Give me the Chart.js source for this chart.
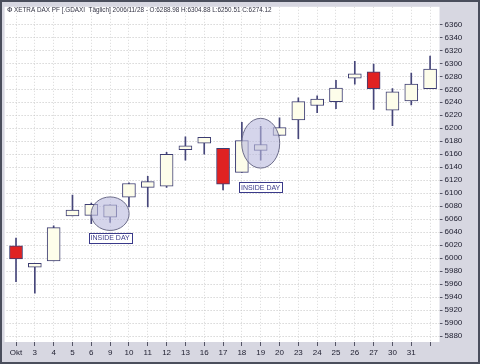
<!DOCTYPE html>
<html><head><meta charset="utf-8">
<script src="https://cdn.jsdelivr.net/npm/chart.js@4"></script>
<style>html,body{margin:0;padding:0;background:#d7d7e1}</style>
</head><body>
<canvas id="c" width="480" height="364"></canvas>
<script>
// daily candles, Oct 2 .. Nov 1
const days = ["Okt","3","4","5","6","9","10","11","12","13","16","17","18","19","20","23","24","25","26","27","30","31","1"]
const tickLabels = ["Okt","3","4","5","6","9","10","11","12","13","16","17","18","19","20","23","24","25","26","27","30","31",""]
const opens  = [6019,5986,5996,6065,6066,6063,6094,6109,6111,6167,6177,6169,6132,6166,6189,6213,6235,6241,6277,6287,6228,6242,6261]
const highs  = [6031,5992,6050,6097,6085,6082,6116,6126,6163,6187,6186,6169,6209,6203,6216,6247,6250,6274,6303,6299,6261,6285,6311]
const lows   = [5964,5946,5996,6065,6053,6055,6079,6079,6109,6151,6160,6105,6132,6151,6189,6184,6224,6230,6268,6229,6204,6236,6261]
const closes = [5999,5992,6047,6074,6083,6082,6115,6118,6160,6173,6186,6114,6181,6175,6201,6241,6245,6262,6284,6261,6256,6268,6291]
const yTicks = [5880,5900,5920,5940,5960,5980,6000,6020,6040,6060,6080,6100,6120,6140,6160,6180,6200,6220,6240,6260,6280,6300,6320,6340,6360]

// inside-day markers: candle index and value of the label box
const insideDays = [5,13]
const insideLabelY = [6031,6109]

const titleText = "XETRA DAX PF [.GDAXI  Täglich] 2006/11/28 - O:6288.98 H:6304.88 L:6250.51 C:6274.12"

const upFill = "#fdfdea"
const downFill = "#e02222"
const edge = "#3c3c72"

const frame = {
id:"frame",
beforeDraw(chart){
const c = chart.ctx, a = chart.chartArea
c.save()
c.fillStyle = "#d7d7e1"
c.fillRect(0,0,chart.width,chart.height)
c.fillStyle = "#ffffff"
c.fillRect(a.left-2,a.top,a.right-a.left+2,a.bottom-a.top)
c.restore()
},
afterDatasetsDraw(chart){
const c = chart.ctx, xs = chart.scales.x, ys = chart.scales.y
c.save()
insideDays.forEach((i,k)=>{
const cx = xs.getPixelForValue(i)
const top = ys.getPixelForValue(highs[i]), bot = ys.getPixelForValue(lows[i])
const cy = (top+bot)/2
const ry = (bot-top)/2 + 8
c.beginPath()
c.ellipse(cx,cy,19,ry,0,0,Math.PI*2)
c.fillStyle = "rgba(185,185,222,0.6)"
c.fill()
c.strokeStyle = "#6c6c8a"
c.lineWidth = 1
c.stroke()
// label
const ly = ys.getPixelForValue(insideLabelY[k])
c.font = "7px 'Liberation Sans'"
const w = c.measureText("INSIDE DAY").width + 4
c.fillStyle = "#ffffff"
c.fillRect(cx-w/2,ly-5,w,10)
c.strokeStyle = "#3a3a8a"
c.strokeRect(Math.round(cx-w/2)+0.5,Math.round(ly-5)+0.5,Math.round(w),10)
c.fillStyle = "#3a3a8a"
c.textAlign = "center"
c.textBaseline = "middle"
c.fillText("INSIDE DAY",cx,ly+0.5)
})
c.restore()
},
afterDraw(chart){
const c = chart.ctx
c.save()
c.font = "7px 'Liberation Sans'"
c.fillStyle = "#333344"
c.textBaseline = "middle"
const w = c.measureText(titleText).width
const size = 7*258/w
c.font = size.toFixed(2)+"px 'Liberation Sans'"
c.fillText(titleText,14,10)
c.font = "7px 'DejaVu Sans'"
c.fillText("Φ",7,10)
c.strokeStyle = "#4a4e5c"
c.lineWidth = 2
c.strokeRect(1,1,chart.width-2,chart.height-2)
c.restore()
}
}

new Chart(document.getElementById("c"),{
type:"bar",
data:{
labels:days,
datasets:[{
data:opens.map((o,i)=>[o,closes[i]]),
backgroundColor:opens.map((o,i)=>closes[i]>=o?upFill:downFill),
borderColor:edge,
borderWidth:1,
borderSkipped:false,
barThickness:13,
grouped:false,
order:0
},{
data:lows.map((l,i)=>[l,highs[i]]),
backgroundColor:"#46467a",
borderWidth:0,
barThickness:1,
grouped:false,
order:1
}]
},
options:{
responsive:false,
animation:false,
layout:{padding:{left:6.6,top:4,right:0,bottom:0}},
plugins:{legend:{display:false},tooltip:{enabled:false},title:{display:false}},
scales:{
x:{
offset:true,
grid:{offset:false,color:"#d8d8d8",tickColor:"#555566",tickLength:4},
border:{display:false,dash:[1,2]},
ticks:{
autoSkip:false,maxRotation:0,padding:2,
color:"#222233",font:{family:"Liberation Sans",size:8},
callback:(v,i)=>tickLabels[i]
},
afterFit:s=>{s.height=22}
},
y:{
position:"right",
min:5871,max:6387,
afterBuildTicks:s=>{s.ticks=yTicks.map(v=>({value:v}))},
grid:{color:"#c4c4c4",tickColor:"#555566",tickLength:3},
border:{display:false,dash:[1,2]},
ticks:{padding:2,color:"#222233",font:{family:"Liberation Sans",size:8},callback:v=>String(v)},
afterFit:s=>{s.width=40.5}
}
}
},
plugins:[frame]
})
</script>
</body></html>
